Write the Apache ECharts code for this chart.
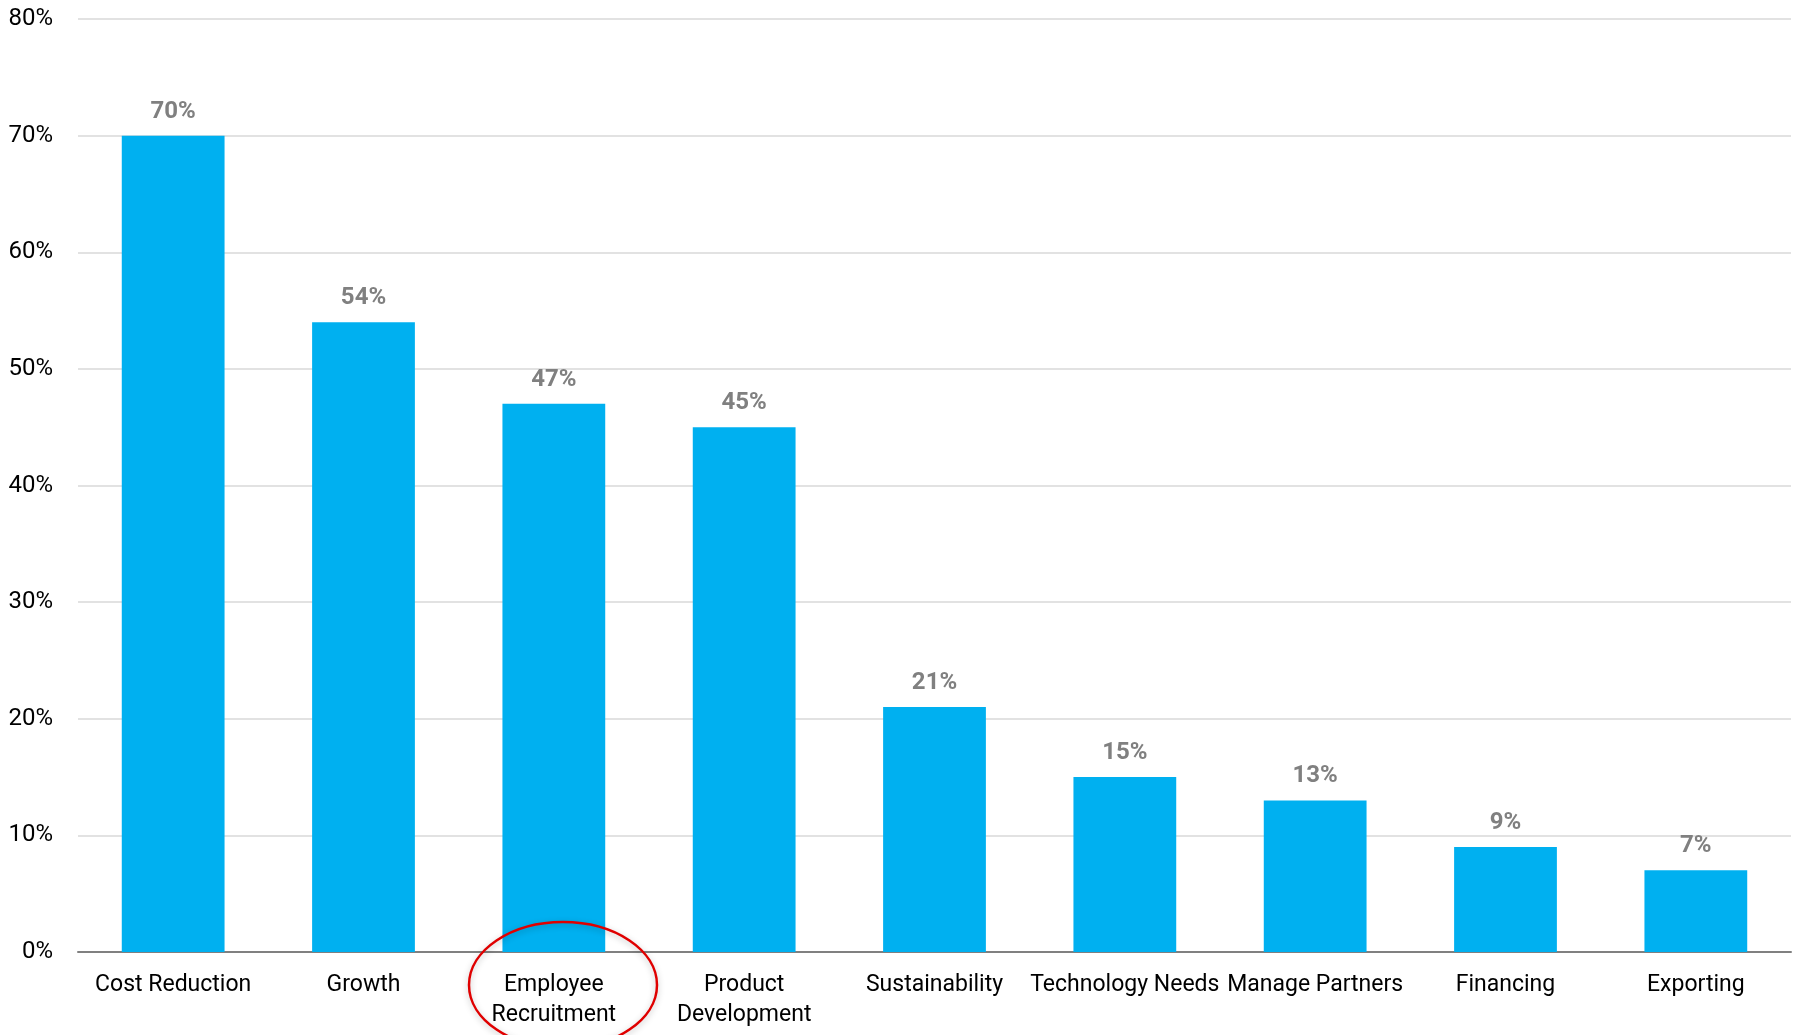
<!DOCTYPE html>
<html>
<head>
<meta charset="utf-8">
<script src="https://cdn.jsdelivr.net/npm/echarts@6/dist/echarts.min.js"></script>
<style>
html,body{margin:0;padding:0;background:#fff;}
#chart{width:1793px;height:1035px;}
</style>
</head>
<body>
<div id="chart"></div>
<script>
const categories = ["Cost Reduction", "Growth", "Employee\nRecruitment", "Product\nDevelopment", "Sustainability", "Technology Needs", "Manage Partners", "Financing", "Exporting"];
const values = [70, 54, 47, 45, 21, 15, 13, 9, 7];
const yTicks = { min: 0, max: 80, interval: 10 };

const FONT = '"Liberation Sans Narrow", "Arial Narrow", Roboto, sans-serif';
const chart = echarts.init(document.getElementById('chart'));
chart.setOption({
  backgroundColor: '#ffffff',
  animation: false,
  grid: { left: 78, right: 2, top: 19, bottom: 83, containLabel: false },
  xAxis: {
    type: 'category',
    data: categories,
    axisLine: { lineStyle: { color: '#808080', width: 2 } },
    axisTick: { show: false },
    axisLabel: { color: '#000', fontSize: 23, fontFamily: FONT, margin: 18, lineHeight: 30, interval: 0 }
  },
  yAxis: {
    type: 'value',
    min: yTicks.min, max: yTicks.max, interval: yTicks.interval,
    axisLine: { show: false },
    axisTick: { show: false },
    splitLine: { lineStyle: { color: '#d9d9d9', width: 1.5 } },
    axisLabel: { color: '#000', fontSize: 24, fontFamily: FONT, margin: 25, formatter: '{value}%' }
  },
  series: [{
    type: 'bar',
    data: values,
    barWidth: '54%',
    itemStyle: { color: '#00B0F0' },
    label: {
      show: true, position: 'top', distance: 12,
      formatter: '{c}%', color: '#808080', fontWeight: 'bold', fontSize: 24, fontFamily: FONT
    }
  }],
  graphic: [{
    type: 'ellipse',
    shape: { cx: 563, cy: 985, rx: 94, ry: 63 },
    style: { fill: 'none', stroke: '#e00000', lineWidth: 2.5, shadowBlur: 6, shadowColor: 'rgba(0,0,0,0.25)', shadowOffsetY: 2 },
    z: 100
  }]
});
</script>
</body>
</html>
